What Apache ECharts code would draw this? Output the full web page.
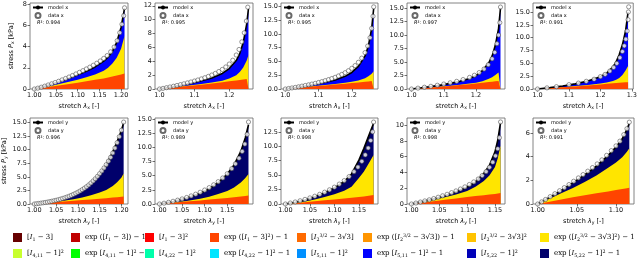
<!DOCTYPE html>
<html><head><meta charset="utf-8">
<script src="https://cdn.jsdelivr.net/npm/echarts@6/dist/echarts.min.js"></script>
<style>html,body{margin:0;padding:0;background:#fff}#c{width:640px;height:261px}</style>
</head><body><div id="c"></div><script>
// ---------- data ----------
const xs1 = [1.000,1.020,1.040,1.060,1.080,1.100,1.120,1.140,1.160,1.170,1.180,1.190,1.200,1.208];
const orange1 = [0,0.12,0.24,0.36,0.48,0.60,0.73,0.86,1.00,1.08,1.17,1.27,1.37,1.46];
const yellow1 = [0,0.15,0.31,0.49,0.68,0.88,1.1,1.36,1.72,2.0,2.4,2.95,3.8,5.0];
const model1 = [0,0.21,0.45,0.72,1.01,1.33,1.68,2.08,2.62,3.0,3.55,4.4,5.8,7.6];
const dataX1 = [1.000,1.008,1.016,1.024,1.032,1.040,1.048,1.056,1.064,1.072,1.080,1.088,1.096,1.104,1.112,1.120,1.128,1.136,1.144,1.152,1.160,1.168,1.176,1.184,1.191,1.197,1.202,1.206,1.208];
const dataY1 = [0,0.08,0.17,0.27,0.38,0.49,0.61,0.73,0.86,0.99,1.13,1.27,1.42,1.57,1.73,1.89,2.06,2.24,2.43,2.64,2.88,3.15,3.5,3.95,4.55,5.3,6.1,6.9,7.65];

const xs2 = [1.00,1.03,1.06,1.09,1.12,1.15,1.18,1.20,1.22,1.23,1.24,1.25,1.255];
const orange2 = [0,0.15,0.31,0.47,0.63,0.80,0.98,1.10,1.22,1.29,1.36,1.43,1.47];
const yellow2 = [0,0.17,0.35,0.53,0.72,0.93,1.2,1.5,2.0,2.45,3.1,4.1,4.9];
const model2 = [0,0.25,0.53,0.84,1.18,1.6,2.25,2.95,4.1,5.1,6.7,9.4,11.6];
const dataX2 = [1.000,1.010,1.020,1.030,1.040,1.050,1.060,1.070,1.080,1.090,1.100,1.110,1.120,1.130,1.140,1.150,1.160,1.170,1.180,1.190,1.200,1.210,1.220,1.228,1.236,1.243,1.249,1.253];
const dataY2 = [0,0.09,0.19,0.29,0.40,0.51,0.63,0.75,0.88,1.01,1.15,1.30,1.46,1.63,1.82,2.02,2.25,2.52,2.82,3.18,3.6,4.15,4.9,5.7,6.8,8.1,9.8,11.8];

const xs3 = [1.00,1.03,1.06,1.09,1.12,1.15,1.18,1.20,1.22,1.24,1.25,1.26,1.266];
const orange3 = [0,0.16,0.32,0.48,0.64,0.80,0.97,1.08,1.2,1.32,1.38,1.45,1.5];
const yellow3 = [0,0.18,0.35,0.53,0.71,0.9,1.12,1.3,1.55,1.95,2.3,2.75,3.2];
const model3 = [0,0.25,0.53,0.85,1.22,1.65,2.3,3.0,4.1,6.0,7.8,11.0,14.6];
const dataX3 = [1.000,1.010,1.020,1.030,1.040,1.050,1.060,1.070,1.080,1.090,1.100,1.110,1.120,1.130,1.140,1.150,1.160,1.170,1.180,1.190,1.200,1.210,1.220,1.230,1.240,1.248,1.255,1.260,1.264,1.266];
const dataY3 = [0,0.09,0.19,0.29,0.40,0.52,0.64,0.76,0.89,1.03,1.18,1.34,1.51,1.70,1.90,2.12,2.37,2.65,2.96,3.32,3.75,4.25,4.85,5.6,6.6,7.8,9.3,11.0,13.2,14.9];

const xs4 = [1.00,1.03,1.06,1.09,1.12,1.15,1.18,1.20,1.22,1.24,1.25,1.26,1.27,1.276];
const orange4 = [0,0.13,0.27,0.42,0.57,0.73,0.9,1.02,1.15,1.28,1.35,1.42,1.48,1.52];
const yellow4 = [0,0.15,0.3,0.46,0.62,0.8,1.0,1.18,1.45,1.9,2.2,2.6,3.05,3.4];
const model4 = [0,0.22,0.46,0.72,1.04,1.42,1.95,2.5,3.4,4.9,6.1,8.1,11.2,15.0];
const dataX4 = [1.000,1.020,1.040,1.060,1.080,1.100,1.120,1.140,1.160,1.180,1.195,1.210,1.225,1.238,1.250,1.258,1.265,1.270,1.274,1.276];
const dataY4 = [0,0.16,0.33,0.5,0.7,0.92,1.15,1.42,1.75,2.15,2.55,3.05,3.7,4.5,5.6,6.8,8.4,10.0,12.3,15.2];

const xs5 = [1.00,1.04,1.08,1.12,1.16,1.20,1.22,1.24,1.25,1.26,1.27,1.28,1.288];
const orange5 = [0,0.15,0.32,0.5,0.7,0.9,1.0,1.1,1.15,1.2,1.25,1.3,1.33];
const yellow5 = [0,0.17,0.35,0.56,0.78,1.05,1.25,1.55,1.8,2.15,2.75,3.6,4.5];
const model5 = [0,0.28,0.6,1.0,1.55,2.4,3.1,4.3,5.3,6.7,8.6,11.3,15.0];
const dataX5 = [1.000,1.030,1.060,1.100,1.130,1.155,1.180,1.200,1.215,1.230,1.242,1.252,1.262,1.270,1.276,1.281,1.285,1.288,1.289,1.290];
const dataY5 = [0,0.22,0.45,0.85,1.15,1.5,1.9,2.4,2.85,3.5,4.2,5.0,6.1,7.3,8.4,9.7,11.3,13.5,15.0,16.0];

const xs6 = [1.00,1.03,1.06,1.09,1.11,1.13,1.15,1.165,1.18,1.19,1.20,1.205];
const orange6 = [0,0.2,0.4,0.6,0.72,0.85,0.97,1.07,1.18,1.26,1.34,1.38];
const yellow6 = [0,0.25,0.52,0.88,1.2,1.6,2.1,2.6,3.3,4.0,4.9,5.6];
const model6 = [0,0.35,0.85,1.7,2.6,3.8,5.5,7.2,9.6,11.5,13.6,15.0];
const dataX6 = [1.000,1.005,1.010,1.015,1.020,1.025,1.030,1.035,1.040,1.045,1.050,1.055,1.060,1.065,1.070,1.075,1.080,1.085,1.090,1.095,1.100,1.105,1.110,1.115,1.120,1.125,1.130,1.135,1.140,1.145,1.150,1.155,1.160,1.165,1.170,1.175,1.180,1.185,1.190,1.195,1.200,1.205];
const dataY6 = [0,0.05,0.1,0.16,0.22,0.28,0.35,0.43,0.51,0.6,0.69,0.79,0.9,1.02,1.15,1.29,1.44,1.6,1.78,1.97,2.18,2.4,2.65,2.92,3.2,3.52,3.87,4.25,4.66,5.1,5.6,6.1,6.65,7.25,7.9,8.6,9.4,10.3,11.3,12.4,13.6,15.1];

const xs7 = [1.00,1.03,1.06,1.09,1.11,1.13,1.15,1.165,1.18,1.19,1.197];
const orange7 = [0,0.2,0.42,0.63,0.78,0.92,1.07,1.2,1.33,1.43,1.5];
const yellow7 = [0,0.25,0.55,0.95,1.3,1.75,2.3,2.9,3.8,4.6,5.3];
const model7 = [0,0.45,1.05,1.9,2.7,3.8,5.3,6.9,9.3,11.7,14.0];
const dataX7 = [1.000,1.010,1.020,1.030,1.040,1.050,1.060,1.070,1.080,1.090,1.100,1.110,1.120,1.130,1.140,1.150,1.160,1.168,1.176,1.183,1.189,1.194,1.197];
const dataY7 = [0,0.14,0.3,0.48,0.68,0.9,1.15,1.43,1.74,2.08,2.47,2.9,3.4,3.95,4.6,5.35,6.25,7.1,8.1,9.3,10.6,12.3,14.5];

const xs8 = [1.00,1.02,1.04,1.06,1.08,1.10,1.12,1.135,1.15,1.16,1.17,1.18];
const orange8 = [0,0.15,0.31,0.48,0.64,0.8,0.96,1.08,1.2,1.3,1.42,1.58];
const yellow8 = [0,0.2,0.45,0.8,1.2,1.7,2.3,3.0,4.5,5.6,7.0,8.5];
const model8 = [0,0.3,0.7,1.25,1.95,2.8,3.9,5.2,7.6,9.6,11.8,14.0];
const dataX8 = [1.000,1.010,1.020,1.030,1.040,1.050,1.060,1.070,1.080,1.090,1.100,1.110,1.120,1.130,1.140,1.148,1.156,1.163,1.169,1.174,1.178,1.180];
const dataY8 = [0,0.17,0.35,0.56,0.8,1.06,1.35,1.68,2.05,2.46,2.92,3.45,4.05,4.75,5.6,6.4,7.4,8.5,9.7,11.0,12.5,14.2];

const xs9 = [1.00,1.02,1.04,1.06,1.08,1.10,1.115,1.13,1.14,1.15,1.155,1.16];
const orange9 = [0,0.18,0.36,0.53,0.7,0.88,1.0,1.12,1.2,1.28,1.33,1.38];
const yellow9 = [0,0.25,0.52,0.85,1.2,1.65,2.2,2.9,3.6,4.7,5.8,7.4];
const model9 = [0,0.3,0.65,1.05,1.55,2.15,2.8,3.9,4.9,6.6,8.1,10.3];
const dataX9 = [1.000,1.008,1.016,1.024,1.032,1.040,1.048,1.056,1.064,1.072,1.080,1.088,1.096,1.104,1.112,1.120,1.127,1.134,1.140,1.146,1.151,1.155,1.158,1.160];
const dataY9 = [0,0.12,0.25,0.39,0.53,0.69,0.86,1.04,1.23,1.44,1.66,1.9,2.17,2.47,2.8,3.17,3.6,4.1,4.65,5.3,6.1,7.0,8.4,10.4];

const xs10 = [1.00,1.015,1.03,1.045,1.06,1.075,1.09,1.10,1.108,1.114,1.117];
const orange10 = [0,0.2,0.38,0.56,0.74,0.9,1.06,1.17,1.26,1.33,1.38];
const yellow10 = [0,0.45,0.9,1.35,1.85,2.4,3.05,3.5,3.95,4.4,4.7];
const model10 = [0,0.55,1.15,1.8,2.45,3.2,4.1,4.8,5.5,6.3,6.8];
const dataX10 = [1.000,1.005,1.010,1.016,1.022,1.028,1.034,1.040,1.046,1.052,1.058,1.064,1.070,1.076,1.082,1.088,1.094,1.100,1.105,1.110,1.114,1.117];
const dataY10 = [0,0.18,0.38,0.62,0.87,1.12,1.38,1.64,1.92,2.2,2.48,2.77,3.07,3.38,3.72,4.1,4.5,4.9,5.3,5.85,6.35,6.9];

// axis ranges and tick labels
const xRanges = [[0.990,1.216],[0.987,1.268],[0.987,1.279],[0.986,1.290],[0.9855,1.3045],
                 [0.990,1.215],[0.990,1.207],[0.991,1.189],[0.992,1.168],[0.994,1.123]];
const yMaxes = [8.1,12.4,15.6,15.95,16.75,15.85,15.2,14.9,10.9,7.25];
const xTickLabels = [
  ['1.00','1.05','1.10','1.15','1.20'],['1.0','1.1','1.2'],['1.0','1.1','1.2'],['1.0','1.1','1.2'],['1.0','1.1','1.2','1.3'],
  ['1.00','1.05','1.10','1.15','1.20'],['1.00','1.05','1.10','1.15'],['1.00','1.05','1.10','1.15'],['1.00','1.05','1.10','1.15'],['1.00','1.05','1.10']];
const y25 = ['0.0','2.5','5.0','7.5','10.0','12.5','15.0'];
const yTickLabels = [
  ['0','2','4','6','8'],['0','2','4','6','8','10','12'],y25,y25,y25,
  y25,y25,['0.0','2.5','5.0','7.5','10.0','12.5'],['0','2','4','6','8','10'],['0','2','4','6']];
const r2Values = ['0.994','0.995','0.995','0.997','0.991','0.996','0.989','0.998','0.998','0.991'];

const termNames = [
  '[{i|I}{sb|1} − 3]','exp ([{i|I}{sb|1} − 3]) − 1','[{i|I}{sb|1} − 3]{sp|2}','exp ([{i|I}{sb|1} − 3]{sp|2}) − 1',
  '[{i|I}{sb|2}{sp|3/2} − 3√3]','exp ([{i|I}{sb|2}{sp|3/2} − 3√3]) − 1','[{i|I}{sb|2}{sp|3/2} − 3√3]{sp|2}','exp ([{i|I}{sb|2}{sp|3/2} − 3√3]{sp|2}) − 1',
  '[{i|I}{sb|4,11} − 1]{sp|2}','exp [{i|I}{sb|4,11} − 1]{sp|2} − 1','[{i|I}{sb|4,22} − 1]{sp|2}','exp [{i|I}{sb|4,22} − 1]{sp|2} − 1',
  '[{i|I}{sb|5,11} − 1]{sp|2}','exp [{i|I}{sb|5,11} − 1]{sp|2} − 1','[{i|I}{sb|5,22} − 1]{sp|2}','exp [{i|I}{sb|5,22} − 1]{sp|2} − 1'];
const termColors = ['#660000','#c00000','#ff0000','#ff4500','#ff6a00','#ff9500','#ffc300','#ffe500',
                    '#c8ff2e','#00ff00','#00ffaa','#00e5ff','#0090ff','#0000ff','#0000b8','#00006b'];

const plotData = [
  [xs1,orange1,yellow1,model1,dataX1,dataY1],[xs2,orange2,yellow2,model2,dataX2,dataY2],
  [xs3,orange3,yellow3,model3,dataX3,dataY3],[xs4,orange4,yellow4,model4,dataX4,dataY4],
  [xs5,orange5,yellow5,model5,dataX5,dataY5],[xs6,orange6,yellow6,model6,dataX6,dataY6],
  [xs7,orange7,yellow7,model7,dataX7,dataY7],[xs8,orange8,yellow8,model8,dataX8,dataY8],
  [xs9,orange9,yellow9,model9,dataX9,dataY9],[xs10,orange10,yellow10,model10,dataX10,dataY10]];

// ---------- layout ----------
const colLeft = [30,155,281,407,533];
const colWidth = [98,98,97,98,101];
const rowTop = [3,118];
const rowHeight = 86;
const legendCols = [13,71,145,210,297,363,467,540];

const pair = (a,b) => a.map((v,i)=>[v,b[i]]);
const dec = s => (s.split('.')[1]||'').length;
const tickFont = 'DejaVu Sans';
const richSub = {
  i:{fontStyle:'italic',fontFamily:tickFont,fontSize:6.5,color:'#000'},
  sb:{fontSize:4.6,fontFamily:tickFont,color:'#000',verticalAlign:'bottom',padding:[3,0,0,0]}
};

const option = {animation:false, grid:[], xAxis:[], yAxis:[], series:[], legend:[], title:[]};

for (let p=0;p<10;p++){
  const row = p<5?0:1, col = p%5, dir = row===0?'x':'y';
  const [xs,orange,yellow,model,dx,dy] = plotData[p];
  option.grid.push({left:colLeft[col],top:rowTop[row],width:colWidth[col],height:rowHeight,
    show:true,borderColor:'#666',borderWidth:0.8,backgroundColor:'#fff'});
  const xd = dec(xTickLabels[p][0]), yd = dec(yTickLabels[p][0]);
  const xVals = xTickLabels[p].map(Number), yVals = yTickLabels[p].map(Number);
  option.xAxis.push({type:'value',gridIndex:p,min:xRanges[p][0],max:xRanges[p][1],
    axisLine:{show:false},splitLine:{show:false},
    axisTick:{show:true,length:2.5,customValues:xVals,lineStyle:{color:'#333',width:0.7}},
    axisLabel:{customValues:xVals,formatter:v=>v.toFixed(xd),fontSize:6.5,fontFamily:tickFont,color:'#111',margin:3,hideOverlap:false},
    name:'stretch {i|λ}{sb|'+dir+'} [-]',nameLocation:'middle',nameGap:13,
    nameTextStyle:{fontSize:6.5,fontFamily:tickFont,color:'#000',rich:richSub}});
  option.yAxis.push({type:'value',gridIndex:p,min:0,max:yMaxes[p],
    axisLine:{show:false},splitLine:{show:false},
    axisTick:{show:true,length:2.5,customValues:yVals,lineStyle:{color:'#333',width:0.7}},
    axisLabel:{customValues:yVals,formatter:v=>v.toFixed(yd),fontSize:6.5,fontFamily:tickFont,color:'#111',margin:3,hideOverlap:false},
    name: col===0 ? 'stress {i|P}{sb|'+dir+'} [kPa]' : '',nameLocation:'middle',nameGap:15,
    nameTextStyle:{fontSize:6.5,fontFamily:tickFont,color:'#000',rich:richSub}});
  const topName = row===0 ? termNames[13] : termNames[15];
  const topColor = row===0 ? termColors[13] : termColors[15];
  const area = (name,color,ys,z) => ({type:'line',name,xAxisIndex:p,yAxisIndex:p,data:pair(xs,ys),
    symbol:'none',silent:true,z,color,lineStyle:{width:0},areaStyle:{color,opacity:1}});
  option.series.push(area(topName,topColor,model,1));
  option.series.push(area(termNames[7],termColors[7],yellow,2));
  option.series.push(area(termNames[3],termColors[3],orange,3));
  option.series.push({type:'line',name:'model '+dir,xAxisIndex:p,yAxisIndex:p,data:pair(xs,model),
    symbol:'none',silent:true,z:4,color:'#000',lineStyle:{color:'#000',width:1.6}});
  option.series.push({type:'scatter',name:'data '+dir,xAxisIndex:p,yAxisIndex:p,data:pair(dx,dy),
    symbol:'circle',symbolSize:4.2,silent:true,z:5,
    itemStyle:{color:'#fff',borderColor:'#444',borderWidth:0.7}});
  option.legend.push({orient:'vertical',left:colLeft[col]+2,top:rowTop[row]+2,itemWidth:10,itemHeight:5,itemGap:2,
    data:['model '+dir,'data '+dir],selectedMode:false,padding:0,
    textStyle:{fontSize:5,fontFamily:tickFont,color:'#000'}});
  option.title.push({text:'{i|R}²: '+r2Values[p],left:colLeft[col]+7,top:rowTop[row]+17,padding:0,
    textStyle:{fontSize:5,fontFamily:tickFont,color:'#000',fontWeight:'normal',
      rich:{i:{fontStyle:'italic',fontSize:5,fontFamily:tickFont,color:'#000'}}}});
}

// dummy series for the remaining legend swatches
termNames.forEach((n,i)=>{
  if (i===3||i===7||i===13||i===15) return;
  option.series.push({type:'line',name:n,xAxisIndex:0,yAxisIndex:0,data:[],color:termColors[i]});
});

const legendRich = {
  i:{fontStyle:'italic',fontFamily:'DejaVu Serif',fontSize:7,color:'#000'},
  sb:{fontFamily:'DejaVu Serif',fontSize:4.8,color:'#000',verticalAlign:'bottom',padding:[4,0,0,0]},
  sp:{fontFamily:'DejaVu Serif',fontSize:4.8,color:'#000',verticalAlign:'top',padding:[0,0,4,0]}
};
for (let c=0;c<8;c++){
  option.legend.push({orient:'vertical',left:legendCols[c],top:233,itemWidth:9,itemHeight:9,itemGap:7,
    icon:'rect',selectedMode:false,padding:0,data:[termNames[c],termNames[c+8]],
    textStyle:{fontFamily:'DejaVu Serif',fontSize:7,color:'#000',rich:legendRich}});
}

const chart = echarts.init(document.getElementById('c'),null,{renderer:'canvas'});
chart.setOption(option);
</script></body></html>
